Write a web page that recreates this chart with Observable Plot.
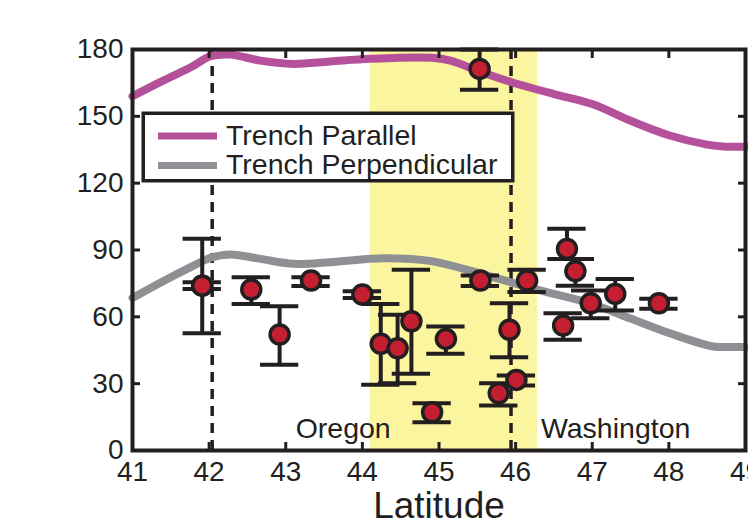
<!DOCTYPE html>
<html><head><meta charset="utf-8">
<script src="https://cdn.jsdelivr.net/npm/d3@7"></script>
<script src="https://cdn.jsdelivr.net/npm/@observablehq/plot@0.6"></script>
<style>
html,body{margin:0;padding:0;background:#fff;}
#wrap{position:relative;width:748px;height:525px;overflow:hidden;font-family:"Liberation Sans",Arial,Helvetica,sans-serif;color:#231f20;}
#wrap svg{position:absolute;left:0;top:0;}
</style>
</head><body>
<div id="wrap"></div>
<script>
// ---- data ----
const parallelLat = [41, 41.4, 41.76, 42.02, 42.28, 42.67, 43.1, 43.58, 44.1, 44.9, 45.15, 45.54, 45.95, 46.5, 47, 47.5, 48, 48.5, 48.75, 49];
const parallelVal = [159, 166, 172, 177, 177.7, 175, 173.5, 174.6, 175.8, 176.3, 175, 170, 165.3, 160, 155.5, 148, 141.5, 137.3, 136.4, 136.4];
const perpLat = [41, 41.4, 41.76, 42.02, 42.28, 42.67, 43.1, 43.58, 44.28, 44.9, 45.54, 45.94, 46.33, 46.98, 47.5, 48.02, 48.58, 48.8, 49];
const perpVal = [68.5, 76, 82.3, 86.5, 88, 86, 83.8, 84.5, 86.3, 85, 79.4, 75.5, 71.8, 66, 59.2, 52.5, 46.7, 46.5, 46.5];

const obsLat = [41.91, 41.91, 42.55, 42.92, 43.33, 44.0, 44.24, 44.46, 44.64, 44.91, 45.09, 45.54, 46.15, 45.92, 46.01, 45.78, 46.67, 46.78, 46.98, 47.3, 46.62, 47.87, 45.53];
const obsVal = [74, 74, 72.3, 52.1, 76.3, 70, 47.9, 45.9, 58, 17.2, 50.1, 76.3, 76.3, 54.2, 31.7, 25.7, 90.5, 80.5, 66.1, 70.3, 56.1, 66.1, 171.3];
const obsLo  = [52.6, 72.5, 65.8, 38.5, 73.8, 68.5, 29.5, 30.2, 34.4, 12.7, 43.4, 73.8, 71.1, 41.9, 29.2, 20.2, 86, 74, 59.4, 62.8, 49.7, 63.6, 161.9];
const obsHi  = [95, 75.5, 77.8, 64.8, 77.8, 71.5, 65.8, 60.9, 81.1, 21.2, 55.7, 78.5, 81.1, 66.1, 33.7, 30.2, 99.5, 86, 71.8, 77, 61.6, 68.1, 180];

const borderLat = [42.04, 45.94];
const bandFrom = [44.1];
const bandTo = [46.29];
const stateNames = ["Oregon", "Washington"];
const stateLat = [44.37, 46.33];
const stateY = [5.4, 5.4];

const xTicks = [41, 42, 43, 44, 45, 46, 47, 48, 49];
const yTicks = [0, 30, 60, 90, 120, 150, 180];
const legendLabels = ["Trench Parallel", "Trench Perpendicular"];
const xLabel = "Latitude";

// ---- styles ----
const INK = "#231f20";
const MAGENTA = "#b5519b";
const GRAY = "#8f9093";
const RED = "#c41f30";
const YELLOW = "#fbf59f";
const legendColors = [MAGENTA, GRAY];
const FONT = '"Liberation Sans", Arial, Helvetica, sans-serif';

// ---- tables ----
const parallel = parallelLat.map((lat, i) => ({lat, v: parallelVal[i]}));
const perp = perpLat.map((lat, i) => ({lat, v: perpVal[i]}));
const obs = obsLat.map((lat, i) => ({lat, v: obsVal[i], lo: obsLo[i], hi: obsHi[i]}));
const capHalf = 0.25;
const caps = obs.flatMap(d => [{lat: d.lat, y: d.lo}, {lat: d.lat, y: d.hi}]);
const bands = bandFrom.map((f, i) => ({from: f, to: bandTo[i]}));
const states = stateNames.map((name, i) => ({name, lat: stateLat[i], y: stateY[i]}));

const chart = Plot.plot({
  width: 748, height: 525,
  marginLeft: 132, marginRight: 3, marginTop: 49, marginBottom: 75,
  x: {domain: [41, 49]},
  y: {domain: [0, 180]},
  style: {fontFamily: FONT, color: INK, background: "transparent"},
  marks: [
    Plot.rect(bands, {x1: "from", x2: "to", fill: YELLOW}),
    Plot.ruleX(borderLat, {stroke: INK, strokeWidth: 3.5, strokeDasharray: "10,7"}),
    Plot.line(parallel, {x: "lat", y: "v", stroke: MAGENTA, strokeWidth: 8, curve: "catmull-rom"}),
    Plot.line(perp, {x: "lat", y: "v", stroke: GRAY, strokeWidth: 8, curve: "catmull-rom"}),
    Plot.ruleX(obs, {x: "lat", y1: "lo", y2: "hi", stroke: INK, strokeWidth: 4}),
    Plot.ruleY(caps, {y: "y", x1: d => d.lat - capHalf, x2: d => d.lat + capHalf, stroke: INK, strokeWidth: 4}),
    Plot.dot(obs, {x: "lat", y: "v", r: 9.5, fill: RED, stroke: INK, strokeWidth: 3.5}),
    Plot.text(states.filter(d => d.name === "Oregon"), {x: "lat", y: "y", text: "name", textAnchor: "end", lineAnchor: "bottom", fontSize: 28.5, fill: INK}),
    Plot.text(states.filter(d => d.name !== "Oregon"), {x: "lat", y: "y", text: "name", textAnchor: "start", lineAnchor: "bottom", fontSize: 28.5, fill: INK}),
    Plot.frame({stroke: INK, strokeWidth: 4}),
    Plot.axisX({anchor: "bottom", ticks: xTicks, tickSize: -8, tickPadding: 19, strokeWidth: 3, fontSize: 28, label: null, tickFormat: d => String(d)}),
    Plot.axisX({anchor: "top", ticks: xTicks, tickSize: -8, strokeWidth: 3, label: null, tickFormat: () => ""}),
    Plot.axisY({anchor: "left", ticks: yTicks, tickSize: -8, tickPadding: 17, strokeWidth: 3, fontSize: 28, label: null, tickFormat: d => String(d)}),
    Plot.axisY({anchor: "right", ticks: yTicks, tickSize: -8, strokeWidth: 3, label: null, tickFormat: () => ""}),
    Plot.text([xLabel], {frameAnchor: "bottom", dy: 67, lineAnchor: "bottom", fontSize: 37, fill: INK})
  ]
});
const wrap = document.getElementById("wrap");
wrap.appendChild(chart);

// legend overlay
const svg = d3.select(wrap).append("svg").attr("width", 748).attr("height", 525).style("pointer-events", "none");
svg.append("rect").attr("x", 143.25).attr("y", 113.25).attr("width", 369.5).attr("height", 67.5)
  .attr("fill", "#fff").attr("stroke", INK).attr("stroke-width", 3.5);
legendLabels.forEach((lab, i) => {
  const yc = 136 + i * 29.5;
  svg.append("line").attr("x1", 158).attr("x2", 217).attr("y1", yc).attr("y2", yc)
    .attr("stroke", legendColors[i]).attr("stroke-width", 7);
  svg.append("text").attr("x", 226).attr("y", yc + 8.5).attr("font-size", 28.5)
    .attr("font-family", FONT).attr("fill", INK).text(lab);
});
// stray period at left edge of the cropped figure
svg.append("text").attr("x", -6).attr("y", 459).attr("font-size", 30).attr("fill", INK)
  .attr("font-family", FONT).text(".");
</script>
</body></html>
